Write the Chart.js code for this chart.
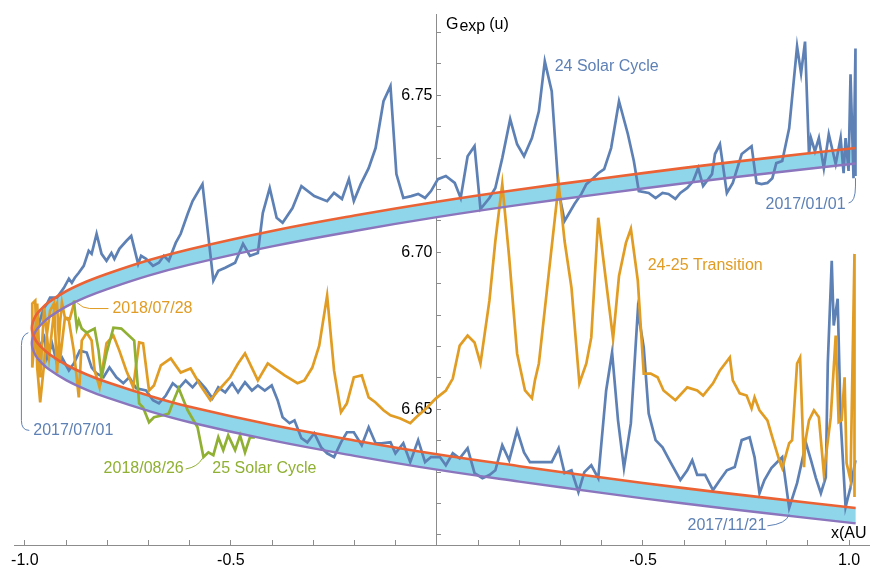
<!DOCTYPE html>
<html>
<head>
<meta charset="utf-8">
<script src="https://cdn.jsdelivr.net/npm/chart.js@4.4.1/dist/chart.umd.min.js"></script>
<style>
  html, body { margin: 0; padding: 0; background: #fff; }
</style>
</head>
<body>
<canvas id="chart" width="871" height="568"></canvas>
<script>
// 24 Solar Cycle, 2017/01/01 -> 2017/07/01 (upper branch, right to left)
const cycle24TopX = [1.0156, 1.0156, 1.0108, 1.0036, 0.9988, 0.9916, 0.9868, 0.9796, 0.9676, 0.9508,
  0.9388, 0.9268, 0.9172, 0.9076, 0.9028, 0.8932, 0.8836, 0.8739, 0.8547, 0.8379,
  0.8235, 0.8139, 0.8019, 0.7875, 0.7755, 0.7635, 0.7395, 0.7179, 0.7035, 0.6867,
  0.6747, 0.6675, 0.6459, 0.6339, 0.6218, 0.6074, 0.5906, 0.5786, 0.5618, 0.5474,
  0.5306, 0.5138, 0.4898, 0.4778, 0.4634, 0.4418, 0.4226, 0.4058, 0.3914, 0.3794,
  0.3625, 0.3505, 0.3337, 0.3097, 0.2953, 0.2785, 0.2617, 0.2473, 0.2305, 0.2113,
  0.1945, 0.1777, 0.1585, 0.1417, 0.1273, 0.1056, 0.0912, 0.0744, 0.0576, 0.0432,
  0.0216, 0.0024, -0.0144, -0.0288, -0.0456, -0.0624, -0.0816, -0.0984, -0.1128, -0.1297,
  -0.1489, -0.1657, -0.1849, -0.2017, -0.2137, -0.2305, -0.2497, -0.2665, -0.2977, -0.3289,
  -0.3505, -0.3745, -0.3890, -0.4058, -0.4226, -0.4346, -0.4538, -0.4706, -0.4898, -0.5138,
  -0.5306, -0.5426, -0.5690, -0.5930, -0.6050, -0.6218, -0.6339, -0.6507, -0.6627, -0.6747,
  -0.6891, -0.7059, -0.7179, -0.7251, -0.7419, -0.7539, -0.7707, -0.7827, -0.7899, -0.8019,
  -0.8139, -0.8259, -0.8379, -0.8451, -0.8571, -0.8691, -0.8788, -0.8860, -0.8932, -0.9052,
  -0.9220, -0.9388, -0.9460, -0.9532, -0.9580, -0.9652, -0.9748, -0.9796]
const cycle24TopY = [6.7243, 6.7649, 6.7236, 6.7567, 6.7259, 6.7364, 6.7252, 6.7364, 6.7281, 6.7376,
  6.7268, 6.7364, 6.7322, 6.7364, 6.7313, 6.7671, 6.7570, 6.7656, 6.7395, 6.7291,
  6.7284, 6.7236, 6.7221, 6.7217, 6.7221, 6.7338, 6.7313, 6.7221, 6.7189, 6.7344,
  6.7313, 6.7249, 6.7211, 6.7268, 6.7227, 6.7205, 6.7189, 6.7170, 6.7186, 6.7189,
  6.7173, 6.7189, 6.7195, 6.7291, 6.7376, 6.7481, 6.7332, 6.7265, 6.7252, 6.7236,
  6.7217, 6.7186, 6.7154, 6.7100, 6.7195, 6.7513, 6.7608, 6.7449, 6.7364, 6.7306,
  6.7344, 6.7424, 6.7300, 6.7205, 6.7173, 6.7138, 6.7338, 6.7306, 6.7173, 6.7221,
  6.7243, 6.7233, 6.7195, 6.7173, 6.7186, 6.7179, 6.7173, 6.7249, 6.7529, 6.7481,
  6.7332, 6.7268, 6.7217, 6.7163, 6.7233, 6.7170, 6.7189, 6.7163, 6.7179, 6.7211,
  6.7141, 6.7094, 6.7110, 6.7205, 6.7125, 6.6998, 6.6989, 6.7027, 6.6967, 6.6951,
  6.6941, 6.6910, 6.7217, 6.7163, 6.7122, 6.7059, 6.7030, 6.6973, 6.6989, 6.6967,
  6.6957, 6.6979, 6.6989, 6.6963, 6.7052, 6.7036, 6.7011, 6.6979, 6.6998, 6.6973,
  6.6995, 6.7059, 6.6995, 6.7005, 6.6957, 6.6935, 6.6919, 6.6903, 6.6916, 6.6887,
  6.6856, 6.6856, 6.6837, 6.6824, 6.6805, 6.6776, 6.6744, 6.6729]

// 24 Solar Cycle, 2017/07/01 -> end of 2017 (lower branch, left to right)
const cycle24BottomX = [-0.9652, -0.9532, -0.9460, -0.9340, -0.9220, -0.9100, -0.8932, -0.8812, -0.8667, -0.8499,
  -0.8379, -0.8259, -0.8091, -0.7947, -0.7779, -0.7611, -0.7467, -0.7299, -0.7059, -0.6891,
  -0.6747, -0.6579, -0.6411, -0.6267, -0.6098, -0.5930, -0.5786, -0.5618, -0.5450, -0.5306,
  -0.5138, -0.4970, -0.4826, -0.4658, -0.4490, -0.4346, -0.4178, -0.4010, -0.3866, -0.3745,
  -0.3577, -0.3457, -0.3289, -0.3145, -0.2977, -0.2809, -0.2665, -0.2497, -0.2329, -0.2185,
  -0.2017, -0.1825, -0.1657, -0.1489, -0.1345, -0.1128, -0.1008, -0.0816, -0.0648, -0.0456,
  -0.0288, -0.0144, 0.0072, 0.0216, 0.0384, 0.0552, 0.0744, 0.0912, 0.1104, 0.1273,
  0.1417, 0.1585, 0.1753, 0.1945, 0.2113, 0.2257, 0.2497, 0.2785, 0.2953, 0.3097,
  0.3265, 0.3433, 0.3577, 0.3745, 0.3914, 0.4106, 0.4250, 0.4394, 0.4538, 0.4706,
  0.4874, 0.5018, 0.5138, 0.5306, 0.5474, 0.5666, 0.5906, 0.6074, 0.6195, 0.6315,
  0.6507, 0.6699, 0.6867, 0.7035, 0.7227, 0.7395, 0.7587, 0.7707, 0.7827, 0.7947,
  0.8115, 0.8235, 0.8379, 0.8547, 0.8739, 0.8956, 0.9076, 0.9196, 0.9316, 0.9436,
  0.9484, 0.9580, 0.9628, 0.9724, 0.9796, 0.9916, 1.0036, 1.0156]
const cycle24BottomY = [6.6697, 6.6729, 6.6665, 6.6710, 6.6646, 6.6665, 6.6624, 6.6646, 6.6687, 6.6681,
  6.6633, 6.6614, 6.6602, 6.6633, 6.6602, 6.6583, 6.6602, 6.6567, 6.6560, 6.6529,
  6.6519, 6.6544, 6.6583, 6.6567, 6.6592, 6.6570, 6.6592, 6.6567, 6.6535, 6.6570,
  6.6554, 6.6583, 6.6554, 6.6586, 6.6560, 6.6576, 6.6560, 6.6576, 6.6529, 6.6475,
  6.6456, 6.6465, 6.6408, 6.6395, 6.6424, 6.6379, 6.6360, 6.6348, 6.6395, 6.6427,
  6.6427, 6.6386, 6.6443, 6.6392, 6.6392, 6.6395, 6.6360, 6.6392, 6.6332, 6.6402,
  6.6332, 6.6348, 6.6348, 6.6322, 6.6360, 6.6344, 6.6376, 6.6297, 6.6281, 6.6291,
  6.6306, 6.6386, 6.6338, 6.6433, 6.6363, 6.6332, 6.6332, 6.6332, 6.6376, 6.6297,
  6.6306, 6.6236, 6.6300, 6.6322, 6.6281, 6.6560, 6.6681, 6.6465, 6.6313, 6.6456,
  6.6814, 6.6697, 6.6487, 6.6402, 6.6379, 6.6332, 6.6275, 6.6306, 6.6338, 6.6291,
  6.6291, 6.6243, 6.6275, 6.6306, 6.6316, 6.6402, 6.6411, 6.6348, 6.6233, 6.6275,
  6.6313, 6.6329, 6.6348, 6.6186, 6.6265, 6.6392, 6.6338, 6.6281, 6.6233, 6.6284,
  6.6646, 6.6973, 6.6767, 6.6852, 6.6465, 6.6189, 6.6252, 6.6338]

// 24-25 Transition, 2018/01 -> 2018/07/28
const transitionX = [1.0132, 1.0132, 1.0036, 0.9940, 0.9892, 0.9820, 0.9748, 0.9676, 0.9556, 0.9388,
  0.9268, 0.9148, 0.9028, 0.8932, 0.8908, 0.8812, 0.8739, 0.8619, 0.8547, 0.8379,
  0.8307, 0.8139, 0.8019, 0.7827, 0.7707, 0.7635, 0.7515, 0.7347, 0.7179, 0.7107,
  0.6867, 0.6699, 0.6459, 0.6315, 0.6074, 0.5786, 0.5498, 0.5354, 0.5186, 0.5018,
  0.4874, 0.4706, 0.4586, 0.4418, 0.4274, 0.3914, 0.3745, 0.3625, 0.3457, 0.3265,
  0.3097, 0.2953, 0.2713, 0.2473, 0.2377, 0.2305, 0.2137, 0.1945, 0.1753, 0.1585,
  0.1417, 0.1273, 0.1056, 0.0912, 0.0744, 0.0552, 0.0384, 0.0216, -0.0024, -0.0264,
  -0.0504, -0.0648, -0.0888, -0.1128, -0.1297, -0.1489, -0.1657, -0.1825, -0.2017, -0.2185,
  -0.2329, -0.2497, -0.2665, -0.2857, -0.3025, -0.3217, -0.3385, -0.3697, -0.4106, -0.4346,
  -0.4658, -0.4826, -0.5018, -0.5306, -0.5498, -0.5738, -0.5978, -0.6218, -0.6459, -0.6699,
  -0.6867, -0.6987, -0.7131, -0.7227, -0.7371, -0.7539, -0.7707, -0.7851, -0.8019, -0.8187,
  -0.8307, -0.8379, -0.8499, -0.8619, -0.8691, -0.8812, -0.8932, -0.9028, -0.9100, -0.9148,
  -0.9220, -0.9292, -0.9388, -0.9460, -0.9532, -0.9628, -0.9700, -0.9748, -0.9820, -0.9820,
  -0.9772, -0.9700, -0.9628, -0.9532, -0.9412, -0.9292, -0.9220, -0.9148, -0.9028, -0.8908, -0.8788]
const transitionY = [6.6221, 6.6995, 6.6275, 6.6329, 6.6602, 6.6465, 6.6459, 6.6735, 6.6475, 6.6297,
  6.6475, 6.6497, 6.6465, 6.6392, 6.6316, 6.6665, 6.6646, 6.6402, 6.6392, 6.6313,
  6.6338, 6.6411, 6.6465, 6.6497, 6.6538, 6.6503, 6.6544, 6.6551, 6.6592, 6.6665,
  6.6624, 6.6583, 6.6544, 6.6560, 6.6570, 6.6529, 6.6560, 6.6602, 6.6614, 6.6614,
  6.6910, 6.7075, 6.7030, 6.6925, 6.6725, 6.7110, 6.6729, 6.6646, 6.6583, 6.6887,
  6.7036, 6.7217, 6.6932, 6.6646, 6.6592, 6.6535, 6.6560, 6.6678, 6.6983, 6.7217,
  6.7036, 6.6846, 6.6646, 6.6713, 6.6735, 6.6703, 6.6598, 6.6560, 6.6535, 6.6503,
  6.6475, 6.6456, 6.6471, 6.6481, 6.6497, 6.6522, 6.6538, 6.6608, 6.6602, 6.6519,
  6.6491, 6.6624, 6.6862, 6.6703, 6.6633, 6.6592, 6.6583, 6.6608, 6.6646, 6.6592,
  6.6678, 6.6646, 6.6602, 6.6560, 6.6529, 6.6576, 6.6630, 6.6617, 6.6662, 6.6640,
  6.6576, 6.6560, 6.6710, 6.6713, 6.6570, 6.6624, 6.6687, 6.6735, 6.6710, 6.6570,
  6.6624, 6.6719, 6.6744, 6.6719, 6.6538, 6.6687, 6.6783, 6.6792, 6.6840, 6.6773,
  6.6614, 6.6837, 6.6814, 6.6744, 6.6646, 6.6522, 6.6633, 6.6846, 6.6837, 6.6633,
  6.6710, 6.6837, 6.6602, 6.6824, 6.6665, 6.6814, 6.6837, 6.6656, 6.6792, 6.6789, 6.6846]

// 25 Solar Cycle, 2018/07/28 onwards
const cycle25X = [-0.8812, -0.8739, -0.8691, -0.8619, -0.8499, -0.8307, -0.8211, -0.8139, -0.8019, -0.7851,
  -0.7659, -0.7347, -0.7227, -0.7131, -0.6987, -0.6867, -0.6651, -0.6507, -0.6387, -0.6267,
  -0.6050, -0.5810, -0.5666, -0.5546, -0.5426, -0.5306, -0.5186, -0.5066, -0.4898, -0.4778,
  -0.4658, -0.4538, -0.4418]
const cycle25Y = [6.6846, 6.6760, 6.6783, 6.6757, 6.6744, 6.6757, 6.6687, 6.6602, 6.6678, 6.6760,
  6.6757, 6.6719, 6.6519, 6.6506, 6.6459, 6.6475, 6.6481, 6.6487, 6.6529, 6.6567,
  6.6497, 6.6443, 6.6348, 6.6363, 6.6354, 6.6411, 6.6370, 6.6417, 6.6370, 6.6417,
  6.6363, 6.6411, 6.6411]

// model band: upper branch right -> vertex -> lower branch right
const bandX = [1.016, 0.8, 0.6, 0.4, 0.2, 0, -0.2, -0.4, -0.6, -0.7, -0.8, -0.85, -0.9, -0.94, -0.96, -0.975, -0.983,
  -0.975, -0.96, -0.94, -0.9, -0.85, -0.8, -0.7, -0.6, -0.4, -0.2, 0, 0.2, 0.4, 0.6, 0.8, 1.016]
const redY = [6.7332, 6.7300, 6.7269, 6.7235, 6.7200, 6.7161, 6.7117, 6.7068, 6.7010, 6.6975, 6.6932, 6.6907, 6.6876, 6.6843, 6.6820, 6.6795, 6.6759,
  6.6723, 6.6698, 6.6675, 6.6642, 6.6611, 6.6586, 6.6544, 6.6508, 6.6450, 6.6401, 6.6357, 6.6319, 6.6283, 6.6249, 6.6218, 6.6186]
const purpleY = [6.7283, 6.7251, 6.7220, 6.7186, 6.7151, 6.7112, 6.7068, 6.7019, 6.6961, 6.6926, 6.6883, 6.6858, 6.6827, 6.6794, 6.6771, 6.6746, 6.6710,
  6.6674, 6.6649, 6.6626, 6.6593, 6.6562, 6.6537, 6.6495, 6.6459, 6.6401, 6.6352, 6.6308, 6.6270, 6.6234, 6.6200, 6.6169, 6.6137]

// tick labels (the right-hand one really reads -0.5 in the original)
const xLabelValues = [-1, -0.5, 0.5, 1]
const xLabelText = ['-1.0', '-0.5', '-0.5', '1.0']
const yLabelValues = [6.65, 6.70, 6.75]

const blue = '#5E81B5'
const orange = '#E19C24'
const green = '#8FB032'
const red = '#EB6235'
const purple = '#8B75BC'
const cyan = '#8FD6EA'
const axisGray = '#8C8C8C'
const fontFamily = '"Liberation Sans", Arial, sans-serif'

// text notes and leader lines, in data coordinates
const notes = [
  ['24 Solar Cycle', blue, 0.2857, 6.7592, 'left'],
  ['2017/01/01', blue, 0.9916, 6.7151, 'right'],
  ['24-25 Transition', orange, 0.5114, 6.6957, 'left'],
  ['2018/07/28', orange, -0.7875, 6.6821, 'left'],
  ['2017/07/01', blue, -0.9796, 6.6433, 'left'],
  ['2018/08/26', green, -0.6146, 6.6310, 'right'],
  ['25 Solar Cycle', green, -0.5450, 6.6310, 'left'],
  ['2017/11/21', blue, 0.7995, 6.6129, 'right']
]
const leaders = [
  [blue, [['M', 0.9988, 6.7157], ['Q', 1.0156, 6.7160, 1.0156, 6.7211], ['L', 1.0156, 6.7236]]],
  [orange, [['M', -0.8739, 6.6840], ['Q', -0.8595, 6.6821, -0.8427, 6.6821], ['L', -0.7971, 6.6821]]],
  [blue, [['M', -0.9916, 6.6744], ['Q', -1.0084, 6.6737, -1.0084, 6.6703], ['L', -1.0084, 6.6465], ['Q', -1.0084, 6.6433, -0.9892, 6.6433]]],
  [green, [['M', -0.6098, 6.6310], ['Q', -0.5810, 6.6316, -0.5690, 6.6344]]],
  [blue, [['M', 0.8019, 6.6129], ['Q', 0.8475, 6.6135, 0.8547, 6.6165]]]
]

const pts = (xs, ys) => xs.map((x, i) => ({x: x, y: ys[i]}))

let redPts = pts(bandX, redY)
let purplePts = pts(bandX, purpleY)
let purpleRev = purplePts.slice().reverse()
// corners doubled so the curve does not bulge at the cut ends
let bandPts = [...redPts, redPts.at(-1), purpleRev[0], ...purpleRev]

const annotate = {
  id: 'annotate',
  afterDatasetsDraw(chart) {
    const {ctx, chartArea} = chart
    const xs = chart.scales.x
    const ys = chart.scales.y
    ctx.save()
    ctx.font = '16px ' + fontFamily
    ctx.textBaseline = 'middle'
    for (const [text, color, vx, vy, align] of notes) {
      ctx.fillStyle = color
      ctx.textAlign = align
      ctx.fillText(text, xs.getPixelForValue(vx), ys.getPixelForValue(vy))
    }
    ctx.lineWidth = 1
    for (const [color, path] of leaders) {
      ctx.strokeStyle = color
      ctx.beginPath()
      for (const [cmd, ...v] of path) {
        const p = v.map((val, i) => i % 2 ? ys.getPixelForValue(val) : xs.getPixelForValue(val))
        if (cmd === 'M') ctx.moveTo(p[0], p[1])
        else if (cmd === 'L') ctx.lineTo(p[0], p[1])
        else ctx.quadraticCurveTo(p[0], p[1], p[2], p[3])
      }
      ctx.stroke()
    }

    // axis names
    const x0 = xs.getPixelForValue(0)
    ctx.fillStyle = '#000'
    ctx.textAlign = 'left'
    ctx.textBaseline = 'alphabetic'
    let left = x0 + 9
    ctx.fillText('G', left, chartArea.top + 14)
    left += ctx.measureText('G').width + 1
    ctx.fillText('exp', left, chartArea.top + 16)
    left += ctx.measureText('exp').width + 4
    ctx.fillText('(u)', left, chartArea.top + 14)
    ctx.fillText('x(AU', xs.getPixelForValue(1) - 18, chartArea.bottom - 7)
    ctx.restore()
  }
}

const lineStyle = (color, order) => ({
  borderColor: color,
  borderWidth: 2.7,
  pointRadius: 0,
  tension: 0,
  fill: false,
  order: order
})

new Chart(document.getElementById('chart'), {
  type: 'line',
  data: {
    datasets: [
      {data: bandPts, borderColor: 'rgba(0,0,0,0)', borderWidth: 1, backgroundColor: cyan,
        fill: 'shape', pointRadius: 0, tension: 0.4, order: 6},
      {data: pts(cycle24TopX, cycle24TopY).concat(pts(cycle24BottomX, cycle24BottomY)), ...lineStyle(blue, 5)},
      {data: pts(transitionX, transitionY), ...lineStyle(orange, 4)},
      {data: pts(cycle25X, cycle25Y), ...lineStyle(green, 3)},
      {data: purplePts, borderColor: purple, borderWidth: 2.4, pointRadius: 0, tension: 0.4, fill: false, order: 2},
      {data: redPts, borderColor: red, borderWidth: 2.6, pointRadius: 0, tension: 0.4, fill: false, order: 1}
    ]
  },
  options: {
    responsive: false,
    animation: false,
    events: [],
    layout: {padding: {left: 8, top: 13, right: 0, bottom: 0}},
    plugins: {legend: {display: false}, tooltip: {enabled: false}},
    scales: {
      x: {
        type: 'linear',
        min: -1.024,
        max: 1.049,
        border: {color: axisGray, width: 1},
        grid: {drawOnChartArea: false, tickLength: -5, color: axisGray},
        ticks: {
          stepSize: 0.1,
          autoSkip: false,
          includeBounds: false,
          maxRotation: 0,
          padding: 11,
          color: '#000',
          font: {family: fontFamily, size: 16},
          callback: v => {
            let i = xLabelValues.findIndex(t => Math.abs(t - v) < 1e-6)
            return i < 0 ? '' : xLabelText[i]
          }
        },
        afterFit: s => { s.height = 23 }
      },
      y: {
        type: 'linear',
        min: 6.6068,
        max: 6.7757,
        position: {x: 0},
        border: {color: axisGray, width: 1},
        grid: {drawOnChartArea: false, tickLength: -5, color: axisGray},
        ticks: {
          stepSize: 0.01,
          autoSkip: false,
          includeBounds: false,
          padding: 5,
          color: '#000',
          font: {family: fontFamily, size: 16},
          callback: v => yLabelValues.some(t => Math.abs(t - v) < 1e-6) ? v.toFixed(2) + ' ' : ''
        },
        afterFit: s => { s.width = 0 }
      }
    }
  },
  plugins: [annotate]
})
</script>
</body>
</html>
